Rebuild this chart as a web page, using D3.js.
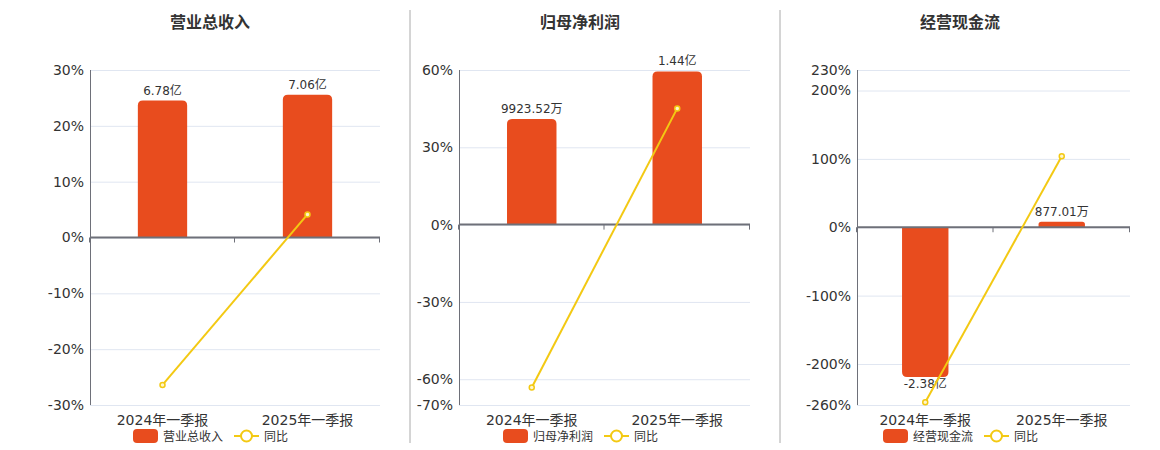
<!DOCTYPE html>
<html>
<head>
<meta charset="utf-8">
<script src="https://cdn.jsdelivr.net/npm/d3@7"></script>
<style>
  body { margin: 0; background: #fff; }
  svg text { font-family: "DejaVu Sans", "Noto Sans CJK SC", sans-serif; }
</style>
</head>
<body>
<div id="chart"></div>
<script>
const categories = ['2024年一季报', '2025年一季报'];

// 营业总收入 (亿)
const revenue = [6.78, 7.06];
const revenueLabels = ['6.78亿', '7.06亿'];
const revenueYoy = [-26.4, 4.13];
const revenueTicks = [30, 20, 10, 0, -10, -20, -30];

// 归母净利润 (亿)
const profit = [0.992352, 1.44];
const profitLabels = ['9923.52万', '1.44亿'];
const profitYoy = [-63.2, 45.1];
const profitTicks = [60, 30, 0, -30, -60, -70];

// 经营现金流 (亿)
const cashflow = [-2.38, 0.0877];
const cashflowLabels = ['-2.38亿', '877.01万'];
const cashflowYoy = [-256, 103.7];
const cashflowTicks = [230, 200, 100, 0, -100, -200, -260];

const barColor = '#e84c1e', lineColor = '#f3c913';
const plotTop = 70, plotBottom = 405;

const svg = d3.select('#chart').append('svg')
    .attr('width', 1160).attr('height', 450);

// dividers between panels
[410, 780].forEach(x => {
    svg.append('line').attr('x1', x).attr('x2', x).attr('y1', 10).attr('y2', 443)
        .attr('stroke', '#aaa').attr('stroke-width', 1);
});

// bar with rounded far end
const barPath = (x, w, y0, y1, r) => {
    const h = Math.abs(y1 - y0);
    r = Math.min(r, h / 2, w / 2);
    if (y1 <= y0) {
        return `M${x},${y0}V${y1 + r}Q${x},${y1} ${x + r},${y1}H${x + w - r}Q${x + w},${y1} ${x + w},${y1 + r}V${y0}Z`;
    }
    return `M${x},${y0}V${y1 - r}Q${x},${y1} ${x + r},${y1}H${x + w - r}Q${x + w},${y1} ${x + w},${y1 - r}V${y0}Z`;
};

const drawPanel = (p) => {
    const g = svg.append('g');

    g.append('text').attr('x', p.cx).attr('y', 28)
        .attr('text-anchor', 'middle').attr('font-size', 16).attr('font-weight', 'bold')
        .attr('fill', '#333').text(p.title);

    const x = d3.scaleBand().domain(categories).range([p.left, p.right]).padding(0);
    const y = d3.scaleLinear().domain(d3.extent(p.ticks)).range([plotBottom, plotTop]);
    const yBar = d3.scaleLinear().domain(p.barDomain).range([plotBottom, plotTop]);
    const y0 = y(0);

    // grid
    g.selectAll('.grid').data(p.ticks).enter().append('line')
        .attr('x1', p.left).attr('x2', p.right)
        .attr('y1', d => y(d) + 0.5).attr('y2', d => y(d) + 0.5)
        .attr('stroke', '#e0e6f1');

    // y axis
    const yAxis = d3.axisLeft(y).tickValues(p.ticks).tickSize(0).tickPadding(6)
        .tickFormat(d => d + '%');
    const ya = g.append('g').attr('transform', `translate(${p.left},0)`).call(yAxis);
    ya.select('.domain').remove();
    ya.selectAll('text').attr('font-size', 14).attr('fill', '#333')
        .attr('font-family', '"DejaVu Sans", sans-serif');
    g.append('line').attr('x1', p.left + 0.5).attr('x2', p.left + 0.5)
        .attr('y1', plotTop).attr('y2', plotBottom).attr('stroke', '#6e7079');

    // bars
    const bw = x.bandwidth() * 0.34;
    g.selectAll('.bar').data(p.values).enter().append('path')
        .attr('d', (d, i) => barPath(x(categories[i]) + (x.bandwidth() - bw) / 2, bw, y0, yBar(d) - yBar(0) + y0, 5))
        .attr('fill', barColor);

    // zero line + ticks
    g.append('line').attr('x1', p.left).attr('x2', p.right)
        .attr('y1', y0).attr('y2', y0).attr('stroke', '#6e7079').attr('stroke-width', 2);
    const bounds = categories.map(c => x(c)).concat([p.right]);
    g.selectAll('.xtick').data(bounds).enter().append('line')
        .attr('x1', d => d - 0.5).attr('x2', d => d - 0.5)
        .attr('y1', y0).attr('y2', y0 + 5).attr('stroke', '#6e7079');

    // category labels
    g.selectAll('.xlab').data(categories).enter().append('text')
        .attr('x', d => x(d) + x.bandwidth() / 2).attr('y', 425)
        .attr('text-anchor', 'middle').attr('font-size', 14).attr('fill', '#333')
        .text(d => d);

    // value labels
    g.selectAll('.vlab').data(p.values).enter().append('text')
        .attr('x', (d, i) => x(categories[i]) + x.bandwidth() / 2)
        .attr('y', d => {
            const yy = yBar(d) - yBar(0) + y0;
            return d >= 0 ? yy - 6 : yy + 11;
        })
        .attr('text-anchor', 'middle').attr('font-size', 12).attr('fill', '#333')
        .text((d, i) => p.labels[i]);

    // yoy line
    const line = d3.line()
        .x((d, i) => x(categories[i]) + x.bandwidth() / 2)
        .y(d => y(d));
    g.append('path').datum(p.yoy).attr('d', line)
        .attr('fill', 'none').attr('stroke', lineColor).attr('stroke-width', 2);
    g.selectAll('.pt').data(p.yoy).enter().append('circle')
        .attr('cx', (d, i) => x(categories[i]) + x.bandwidth() / 2)
        .attr('cy', d => y(d)).attr('r', 2.5)
        .attr('fill', '#fff6cc').attr('stroke', lineColor).attr('stroke-width', 1.5);

    // legend
    const lx = p.cx - 77;
    g.append('rect').attr('x', lx).attr('y', 429).attr('width', 25).attr('height', 14)
        .attr('rx', 4).attr('fill', barColor);
    g.append('text').attr('x', lx + 30).attr('y', 441).attr('font-size', 12)
        .attr('fill', '#333').text(p.title);
    g.append('line').attr('x1', lx + 101).attr('x2', lx + 126).attr('y1', 436).attr('y2', 436)
        .attr('stroke', lineColor).attr('stroke-width', 2);
    g.append('circle').attr('cx', lx + 113.5).attr('cy', 436).attr('r', 5.5)
        .attr('fill', '#fff').attr('stroke', lineColor).attr('stroke-width', 2);
    g.append('text').attr('x', lx + 131).attr('y', 441).attr('font-size', 12)
        .attr('fill', '#333').text('同比');
};

drawPanel({ title: '营业总收入', cx: 210, left: 90, right: 380,
    values: revenue, labels: revenueLabels, yoy: revenueYoy, ticks: revenueTicks,
    barDomain: [-8.29, 8.29] });
drawPanel({ title: '归母净利润', cx: 580, left: 459, right: 750,
    values: profit, labels: profitLabels, yoy: profitYoy, ticks: profitTicks,
    barDomain: [-1.692, 1.458] });
drawPanel({ title: '经营现金流', cx: 960, left: 857, right: 1130,
    values: cashflow, labels: cashflowLabels, yoy: cashflowYoy, ticks: cashflowTicks,
    barDomain: [-2.822, 2.505] });
</script>
</body>
</html>
